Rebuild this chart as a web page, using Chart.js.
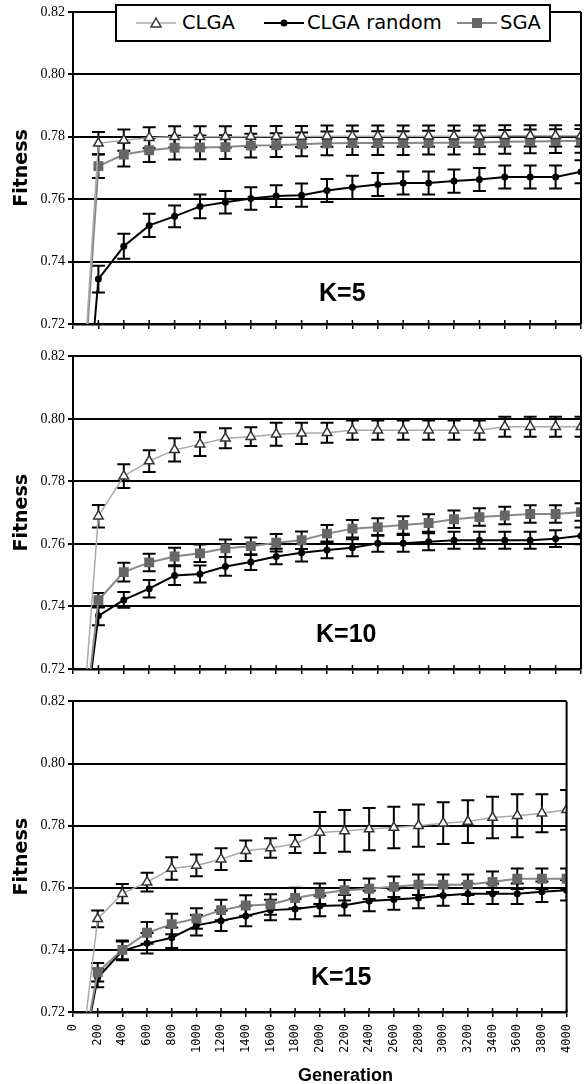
<!DOCTYPE html>
<html>
<head>
<meta charset="utf-8">
<script src="https://cdn.jsdelivr.net/npm/chart.js@4.4.1/dist/chart.umd.min.js"></script>
<style>
body { margin: 0; background: #fff; }
#wrap { position: relative; width: 588px; height: 1084px; overflow: hidden; }
canvas { position: absolute; left: 0; }
.klabel { position: absolute; font: bold 25px "Liberation Sans", Arial, sans-serif; line-height: 1; color: #000; }
#legend { position: absolute; left: 115px; top: 4px; width: 436px; height: 38px; box-sizing: border-box;
  border: 2px solid #000; background: #fff; font: 19.5px "DejaVu Sans", sans-serif; }
#legend svg { position: absolute; top: 10px; }
#legend span { position: absolute; top: 0; line-height: 34px; color: #000; white-space: nowrap; }
#xtitle { position: absolute; left: 298px; top: 1066px; font: bold 18px "Liberation Sans", Arial, sans-serif; line-height: 1; }
</style>
</head>
<body>
<div id="wrap">
  <canvas id="c5" width="588" height="345" style="top:0"></canvas>
  <canvas id="c10" width="588" height="345" style="top:345px"></canvas>
  <canvas id="c15" width="588" height="394" style="top:690px"></canvas>
  <div class="klabel" style="left:319px;top:280px">K=5</div>
  <div class="klabel" style="left:316px;top:621px">K=10</div>
  <div class="klabel" style="left:311px;top:964px">K=15</div>
  <div id="xtitle">Generation</div>
  <div id="legend">
    <svg width="40" height="14" style="left:19px"><line x1="0" y1="7" x2="40" y2="7" stroke="#aaa" stroke-width="1.5"/><polygon points="20,2 25,11 15,11" fill="#fff" stroke="#333" stroke-width="1.5"/></svg>
    <span style="left:65px">CLGA</span>
    <svg width="40" height="14" style="left:147px"><line x1="0" y1="7" x2="40" y2="7" stroke="#000" stroke-width="2"/><circle cx="20" cy="7" r="3.5" fill="#000"/></svg>
    <span style="left:190px">CLGA random</span>
    <svg width="40" height="14" style="left:340px"><line x1="0" y1="7" x2="40" y2="7" stroke="#888" stroke-width="2"/><rect x="15" y="2" width="10" height="10" fill="#666"/></svg>
    <span style="left:383px">SGA</span>
  </div>
</div>
<script>
const generations = [0, 200, 400, 600, 800, 1000, 1200, 1400, 1600, 1800, 2000, 2200, 2400, 2600, 2800, 3000, 3200, 3400, 3600, 3800, 4000];
const yTicks = [0.72, 0.74, 0.76, 0.78, 0.80, 0.82];

// K=5
const k5Clga = [0.65, 0.7779, 0.7789, 0.7797, 0.7800, 0.7800, 0.7800, 0.7801, 0.7801, 0.7801, 0.7802, 0.7802, 0.7802, 0.7802, 0.7802, 0.7802, 0.7802, 0.7803, 0.7803, 0.7803, 0.7803];
const k5ClgaErr = [null, 0.0036, 0.0034, 0.0034, 0.0034, 0.0034, 0.0034, 0.0034, 0.0034, 0.0034, 0.0034, 0.0034, 0.0034, 0.0034, 0.0034, 0.0034, 0.0034, 0.0034, 0.0034, 0.0034, 0.0034];
const k5Random = [0.64, 0.7344, 0.7449, 0.7516, 0.7545, 0.7577, 0.7590, 0.7602, 0.7610, 0.7613, 0.7628, 0.7638, 0.7647, 0.7652, 0.7652, 0.7658, 0.7663, 0.7671, 0.7671, 0.7671, 0.7688];
const k5RandomErr = [null, 0.0043, 0.0040, 0.0037, 0.0035, 0.0038, 0.0036, 0.0036, 0.0035, 0.0037, 0.0037, 0.0037, 0.0037, 0.0037, 0.0037, 0.0037, 0.0037, 0.0037, 0.0037, 0.0037, 0.0037];
const k5Sga = [0.65, 0.7706, 0.7743, 0.7757, 0.7765, 0.7766, 0.7767, 0.7772, 0.7773, 0.7776, 0.7779, 0.7780, 0.7780, 0.7780, 0.7781, 0.7781, 0.7782, 0.7784, 0.7785, 0.7786, 0.7787];
const k5SgaErr = [null, 0.0038, 0.0038, 0.0038, 0.0038, 0.0038, 0.0038, 0.0038, 0.0038, 0.0038, 0.0038, 0.0038, 0.0038, 0.0038, 0.0038, 0.0038, 0.0038, 0.0038, 0.0038, 0.0038, 0.0038];

// K=10
const k10Clga = [0.662, 0.7689, 0.7817, 0.7865, 0.7901, 0.7919, 0.7938, 0.7943, 0.7951, 0.7954, 0.7956, 0.7964, 0.7964, 0.7964, 0.7964, 0.7964, 0.7964, 0.7975, 0.7975, 0.7975, 0.7975];
const k10ClgaErr = [null, 0.0036, 0.0038, 0.0035, 0.0037, 0.0038, 0.0032, 0.0030, 0.0037, 0.0034, 0.0032, 0.0031, 0.0031, 0.0031, 0.0031, 0.0031, 0.0031, 0.0032, 0.0032, 0.0032, 0.0032];
const k10Random = [0.673, 0.7370, 0.7421, 0.7457, 0.7499, 0.7504, 0.7528, 0.7542, 0.7560, 0.7572, 0.7581, 0.7588, 0.7602, 0.7602, 0.7607, 0.7612, 0.7612, 0.7612, 0.7612, 0.7617, 0.7626];
const k10RandomErr = [null, 0.0030, 0.0025, 0.0028, 0.0030, 0.0027, 0.0030, 0.0025, 0.0025, 0.0028, 0.0027, 0.0027, 0.0027, 0.0027, 0.0027, 0.0027, 0.0027, 0.0027, 0.0027, 0.0027, 0.0027];
const k10Sga = [0.67, 0.7420, 0.7510, 0.7541, 0.7560, 0.7570, 0.7586, 0.7593, 0.7604, 0.7612, 0.7633, 0.7649, 0.7654, 0.7661, 0.7667, 0.7679, 0.7686, 0.7691, 0.7696, 0.7696, 0.7702];
const k10SgaErr = [null, 0.0023, 0.0030, 0.0028, 0.0028, 0.0028, 0.0028, 0.0028, 0.0028, 0.0028, 0.0028, 0.0028, 0.0028, 0.0028, 0.0028, 0.0028, 0.0028, 0.0028, 0.0028, 0.0028, 0.0028];

// K=15
const k15Clga = [0.684, 0.7500, 0.7581, 0.7618, 0.7662, 0.7672, 0.7692, 0.7719, 0.7728, 0.7741, 0.7778, 0.7783, 0.7789, 0.7794, 0.7800, 0.7808, 0.7813, 0.7826, 0.7832, 0.7840, 0.7851];
const k15ClgaErr = [null, 0.0027, 0.0031, 0.0030, 0.0036, 0.0035, 0.0035, 0.0033, 0.0031, 0.0029, 0.0066, 0.0067, 0.0068, 0.0067, 0.0068, 0.0067, 0.0069, 0.0067, 0.0069, 0.0061, 0.0064];
const k15Random = [0.69, 0.7310, 0.7397, 0.7421, 0.7439, 0.7479, 0.7494, 0.7509, 0.7528, 0.7532, 0.7541, 0.7544, 0.7557, 0.7562, 0.7567, 0.7575, 0.7581, 0.7581, 0.7581, 0.7587, 0.7592];
const k15RandomErr = [null, 0.0030, 0.0030, 0.0033, 0.0033, 0.0033, 0.0033, 0.0033, 0.0033, 0.0033, 0.0033, 0.0033, 0.0033, 0.0033, 0.0033, 0.0033, 0.0033, 0.0033, 0.0033, 0.0033, 0.0033];
const k15Sga = [0.69, 0.7328, 0.7400, 0.7455, 0.7483, 0.7501, 0.7528, 0.7543, 0.7546, 0.7567, 0.7581, 0.7592, 0.7597, 0.7603, 0.7610, 0.7610, 0.7610, 0.7619, 0.7629, 0.7629, 0.7629];
const k15SgaErr = [null, 0.0030, 0.0030, 0.0035, 0.0033, 0.0033, 0.0033, 0.0033, 0.0033, 0.0033, 0.0033, 0.0033, 0.0033, 0.0033, 0.0033, 0.0033, 0.0033, 0.0033, 0.0033, 0.0033, 0.0033];

const toPoints = vals => vals.map((v, i) => ({ x: generations[i], y: v }));

// vertical error bars, drawn under the markers
const errorBars = {
    id: 'errorBars',
    beforeDatasetsDraw(chart) {
        const { ctx, chartArea: a, scales: { y } } = chart;
        ctx.save();
        ctx.beginPath();
        ctx.rect(a.left, a.top, a.width, a.height);
        ctx.clip();
        ctx.strokeStyle = '#000';
        ctx.lineWidth = 2;
        chart.data.datasets.forEach((ds, i) => {
            const pts = chart.getDatasetMeta(i).data;
            ds.errors.forEach((e, j) => {
                if (e == null) return;
                const v = ds.data[j].y;
                const px = pts[j].x;
                const top = y.getPixelForValue(v + e);
                const bot = y.getPixelForValue(v - e);
                ctx.beginPath();
                ctx.moveTo(px, top); ctx.lineTo(px, bot);
                ctx.moveTo(px - 6.5, top); ctx.lineTo(px + 6.5, top);
                ctx.moveTo(px - 6.5, bot); ctx.lineTo(px + 6.5, bot);
                ctx.stroke();
            });
        });
        ctx.restore();
    }
};

// right border and tick marks reaching into the plot
const frame = {
    id: 'frame',
    afterDraw(chart) {
        const { ctx, chartArea: a, scales: { x } } = chart;
        ctx.save();
        ctx.strokeStyle = '#000';
        ctx.lineWidth = 2;
        ctx.beginPath();
        ctx.moveTo(a.right, a.top);
        ctx.lineTo(a.right, a.bottom);
        ctx.stroke();
        ctx.lineWidth = 1.5;
        ctx.beginPath();
        x.ticks.forEach((t, i) => {
            const px = x.getPixelForTick(i);
            ctx.moveTo(px, a.bottom - 4);
            ctx.lineTo(px, a.bottom);
        });
        ctx.stroke();
        ctx.restore();
    }
};

function makeChart(id, clga, clgaErr, rnd, rndErr, sga, sgaErr, showLabels, xHeight, padTop) {
    const ctx = document.getElementById(id).getContext('2d');
    return new Chart(ctx, {
        type: 'line',
        data: {
            datasets: [
                {
                    label: 'CLGA',
                    data: toPoints(clga),
                    errors: clgaErr,
                    borderColor: '#aaaaaa',
                    borderWidth: 1.5,
                    pointStyle: 'triangle',
                    pointRadius: 5.5,
                    pointBackgroundColor: '#ffffff',
                    pointBorderColor: '#333333',
                    pointBorderWidth: 1.5,
                    order: 1
                },
                {
                    label: 'CLGA random',
                    data: toPoints(rnd),
                    errors: rndErr,
                    borderColor: '#000000',
                    borderWidth: 2,
                    pointStyle: 'circle',
                    pointRadius: 3.5,
                    pointBackgroundColor: '#000000',
                    pointBorderColor: '#000000',
                    pointBorderWidth: 0,
                    order: 3
                },
                {
                    label: 'SGA',
                    data: toPoints(sga),
                    errors: sgaErr,
                    borderColor: '#888888',
                    borderWidth: 2,
                    pointStyle: 'rect',
                    pointRadius: 7,
                    pointBackgroundColor: '#666666',
                    pointBorderColor: '#666666',
                    pointBorderWidth: 0,
                    order: 2
                }
            ]
        },
        options: {
            responsive: false,
            animation: false,
            devicePixelRatio: 1,
            layout: { padding: { top: padTop, right: 1, bottom: 0, left: 0 } },
            elements: { line: { tension: 0 } },
            plugins: { legend: { display: false }, tooltip: { enabled: false } },
            scales: {
                x: {
                    type: 'linear',
                    min: 0,
                    max: 4000,
                    afterBuildTicks: scale => { scale.ticks = generations.map(g => ({ value: g })); },
                    afterFit: scale => { scale.height = xHeight; },
                    grid: { drawOnChartArea: false, color: '#000', lineWidth: 1.5, tickLength: 5 },
                    border: { color: '#000', width: 2.5 },
                    ticks: {
                        display: showLabels,
                        autoSkip: false,
                        minRotation: 90,
                        maxRotation: 90,
                        padding: 7,
                        color: '#000',
                        font: { family: 'DejaVu Sans Mono', size: 12 },
                        callback: v => String(v)
                    }
                },
                y: {
                    min: 0.72,
                    max: 0.82,
                    afterBuildTicks: scale => { scale.ticks = yTicks.map(v => ({ value: v })); },
                    afterFit: scale => { scale.width = 73; },
                    grid: { color: '#000', lineWidth: 2, tickLength: 5 },
                    border: { color: '#000', width: 2 },
                    ticks: {
                        padding: 3,
                        color: '#000',
                        font: { family: 'Liberation Serif', size: 14 },
                        callback: v => v.toFixed(2)
                    },
                    title: {
                        display: true,
                        text: 'Fitness',
                        color: '#000',
                        padding: { top: 11, bottom: 0 },
                        font: { family: 'DejaVu Sans', weight: 'bold', size: 19 }
                    }
                }
            }
        },
        plugins: [errorBars, frame]
    });
}

makeChart('c5', k5Clga, k5ClgaErr, k5Random, k5RandomErr, k5Sga, k5SgaErr, false, 21, 12);
makeChart('c10', k10Clga, k10ClgaErr, k10Random, k10RandomErr, k10Sga, k10SgaErr, false, 21, 7);
makeChart('c15', k15Clga, k15ClgaErr, k15Random, k15RandomErr, k15Sga, k15SgaErr, true, 72, 7);
</script>
</body>
</html>
